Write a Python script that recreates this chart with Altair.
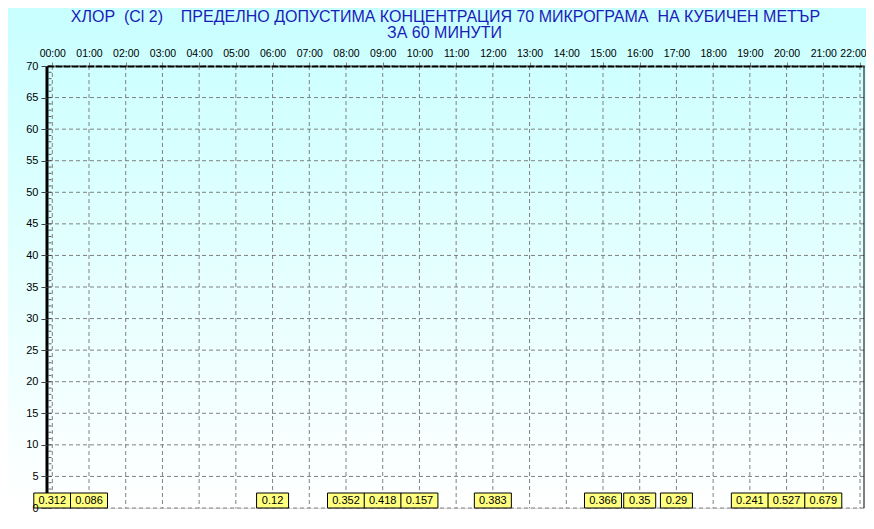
import altair as alt
import pandas as pd

hours = [0, 1, 6, 8, 9, 10, 12, 15, 16, 17, 19, 20, 21]
values = [0.312, 0.086, 0.12, 0.352, 0.418, 0.157, 0.383, 0.366, 0.35, 0.29, 0.241, 0.527, 0.679]
labels = ["0.312", "0.086", "0.12", "0.352", "0.418", "0.157", "0.383", "0.366", "0.35", "0.29", "0.241", "0.527", "0.679"]
x_ticks = list(range(0, 23))
y_ticks = list(range(0, 71, 5))
y_minor = list(range(0, 71))

title_line1 = "ХЛОР\u00a0 (Cl 2)\u00a0\u00a0\u00a0 ПРЕДЕЛНО ДОПУСТИМА КОНЦЕНТРАЦИЯ 70 МИКРОГРАМА\u00a0 НА КУБИЧЕН МЕТЪР"
title_line2 = "ЗА 60 МИНУТИ"

W, H = 817, 442
X_MIN, X_MAX = -0.144, 22.109
FONT = "Liberation Sans"
AXFONT = "Liberation Sans Narrow, Liberation Sans, Arial"
GRID = "#808080"
TITLE_COLOR = "#1c1cb8"

df = pd.DataFrame({"hour": hours, "value": values, "label": labels})

xscale = alt.Scale(domain=[X_MIN, X_MAX], nice=False, zero=False, padding=0)
yscale = alt.Scale(domain=[0, 70], nice=False, zero=False, padding=0)

xaxis = alt.Axis(orient="top", values=x_ticks,
                 labelExpr="(datum.value < 10 ? '0' : '') + datum.value + ':00'",
                 labelOffset={"condition": {"test": "datum.value == 22", "value": -7}, "value": 0},
                 grid=False, domainColor="black", domainWidth=2, domainDash=[7, 1],
                 tickSize=4, tickColor=GRID,
                 labelFont=AXFONT, labelFontSize=10.5, labelColor="black",
                 labelPadding=4, labelFlush=False, labelOverlap=False,
                 title=None, zindex=1)
yaxis = alt.Axis(values=y_ticks, grid=False, domain=False,
                 tickSize=6, tickColor="#404040",
                 labelFont=AXFONT, labelFontSize=11, labelColor="black",
                 labelPadding=3, labelFlush=False, labelOverlap=False,
                 title=None, zindex=1)

one = alt.Data(values=[{"k": 1}])

bg = alt.Chart(one).mark_rect(
    fill=alt.Gradient(
        gradient="linear",
        stops=[alt.GradientStop(color="#C8FFFF", offset=0),
               alt.GradientStop(color="#FFFFFF", offset=1)],
        x1=0, x2=0, y1=0, y2=1,
    )
).encode(x=alt.value(-39), x2=alt.value(W + 2), y=alt.value(-58), y2=alt.value(H))

t1 = alt.Chart(one).mark_text(
    text=title_line1, font=FONT, fontSize=16, color=TITLE_COLOR, align="center", baseline="alphabetic"
).encode(x=alt.value(W / 2 - 10), y=alt.value(-44))

t2 = alt.Chart(one).mark_text(
    text=title_line2, font=FONT, fontSize=16, color=TITLE_COLOR, align="center", baseline="alphabetic"
).encode(x=alt.value(W / 2 - 11), y=alt.value(-28))

xgrid = alt.Chart(pd.DataFrame({"hour": x_ticks})).mark_rule(
    color=GRID, strokeWidth=1, strokeDash=[4, 3]
).encode(x=alt.X("hour:Q", scale=xscale, axis=xaxis))

ygrid = alt.Chart(pd.DataFrame({"value": y_ticks})).mark_rule(
    color=GRID, strokeWidth=1, strokeDash=[4, 3]
).encode(y=alt.Y("value:Q", scale=yscale, axis=yaxis))

minor = alt.Chart(pd.DataFrame({"value": y_minor})).mark_tick(
    orient="horizontal", size=3, thickness=1, color="#202020", xOffset=3
).encode(x=alt.X(datum=X_MIN, scale=xscale, axis=xaxis), y=alt.Y("value:Q", scale=yscale, axis=yaxis))

left_axis = alt.Chart(one).mark_rule(color="black", strokeWidth=3).encode(
    x=alt.X(datum=X_MIN, scale=xscale, axis=xaxis))

right_border = alt.Chart(one).mark_rule(color="black", strokeWidth=1).encode(
    x=alt.X(datum=X_MAX, scale=xscale, axis=xaxis))

bars = alt.Chart(df).mark_bar(color="#CC0000", width=8).encode(
    x=alt.X("hour:Q", scale=xscale, axis=xaxis),
    y=alt.Y("value:Q", scale=yscale, axis=yaxis),
    y2=alt.datum(0),
)

box_wide = alt.Chart(df).transform_filter("length(datum.label) == 5").mark_rect(
    fill="#FFFF80", stroke="black", strokeWidth=1, width=37, height=15, yOffset=-7.5
).encode(x=alt.X("hour:Q", scale=xscale, axis=xaxis), y=alt.Y(datum=0, scale=yscale, axis=yaxis))

box_narrow = alt.Chart(df).transform_filter("length(datum.label) == 4").mark_rect(
    fill="#FFFF80", stroke="black", strokeWidth=1, width=32, height=15, yOffset=-7.5
).encode(x=alt.X("hour:Q", scale=xscale, axis=xaxis), y=alt.Y(datum=0, scale=yscale, axis=yaxis))

texts = alt.Chart(df).mark_text(
    font=FONT, fontSize=11, color="black", yOffset=-7
).encode(x=alt.X("hour:Q", scale=xscale, axis=xaxis),
         y=alt.Y(datum=0, scale=yscale, axis=yaxis), text="label:N")

chart = alt.layer(bg, t1, t2, xgrid, ygrid, minor, left_axis, bars, right_border,
                  box_wide, box_narrow, texts).properties(
    width=W, height=H,
    padding={"left": 39, "top": 58, "right": 2, "bottom": 5},
    autosize=alt.AutoSizeParams(type="none"),
).configure_view(stroke=None).configure(background="white")

chart.save("out.html", embed_options={"renderer": "svg", "actions": False})
